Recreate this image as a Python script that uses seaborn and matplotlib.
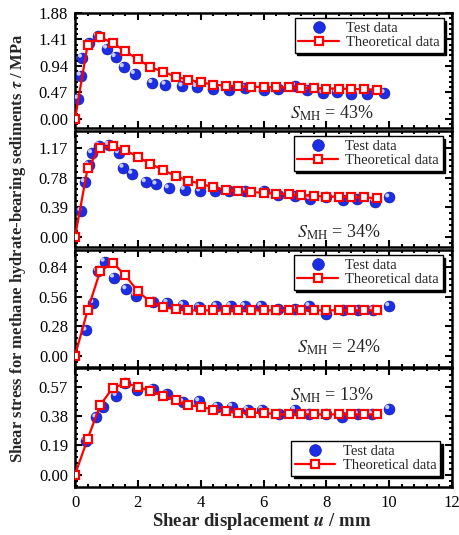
import numpy as np
import pandas as pd
import seaborn as sns
import matplotlib
matplotlib.use("Agg")
import matplotlib.pyplot as plt
from matplotlib.ticker import AutoMinorLocator, FixedLocator, MultipleLocator
from matplotlib.transforms import ScaledTranslation
from matplotlib.lines import Line2D

# ---- data -------------------------------------------------------------
saturations = ["43%", "34%", "24%", "13%"]

theory_u = [0.0, 0.4, 0.8, 1.2, 1.6, 2.0, 2.4, 2.8, 3.2, 3.6, 4.0, 4.4, 4.8,
            5.2, 5.6, 6.0, 6.4, 6.8, 7.2, 7.6, 8.0, 8.4, 8.8, 9.2, 9.6]

theory_43 = [0.00, 1.31, 1.45, 1.35, 1.20, 1.06, 0.92, 0.84, 0.75, 0.70, 0.65, 0.61, 0.59,
             0.58, 0.57, 0.57, 0.56, 0.56, 0.55, 0.55, 0.54, 0.54, 0.53, 0.53, 0.52]
theory_34 = [0.00, 0.90, 1.17, 1.19, 1.14, 1.05, 0.96, 0.88, 0.80, 0.74, 0.70, 0.65, 0.62,
             0.60, 0.59, 0.58, 0.57, 0.56, 0.55, 0.54, 0.53, 0.53, 0.52, 0.52, 0.51]
theory_24 = [0.00, 0.43, 0.80, 0.88, 0.76, 0.61, 0.51, 0.46, 0.44, 0.43, 0.43, 0.43, 0.43,
             0.43, 0.43, 0.43, 0.43, 0.43, 0.43, 0.43, 0.43, 0.43, 0.43, 0.43, 0.43]
theory_13 = [0.00, 0.23, 0.45, 0.56, 0.59, 0.57, 0.54, 0.51, 0.48, 0.45, 0.44, 0.42, 0.41,
             0.40, 0.40, 0.40, 0.39, 0.39, 0.39, 0.39, 0.39, 0.39, 0.39, 0.39, 0.39]

test_u_43 = [0.10, 0.18, 0.22, 0.46, 0.73, 1.02, 1.29, 1.55, 1.90, 2.46, 2.88, 3.42, 3.87,
             4.40, 4.90, 5.40, 6.00, 6.46, 7.00, 7.40, 7.90, 8.33, 8.80, 9.30, 9.85]
test_43 = [0.36, 0.77, 1.09, 1.34, 1.47, 1.25, 1.10, 0.92, 0.80, 0.64, 0.61, 0.58, 0.57,
           0.53, 0.51, 0.55, 0.52, 0.53, 0.59, 0.52, 0.46, 0.47, 0.44, 0.44, 0.46]

test_u_34 = [0.20, 0.31, 0.43, 0.54, 0.76, 1.07, 1.39, 1.54, 1.82, 2.25, 2.59, 2.98, 3.49,
             3.98, 4.46, 4.90, 5.40, 6.00, 6.47, 7.00, 7.48, 8.00, 8.54, 8.97, 9.55, 10.0]
test_34 = [0.34, 0.72, 0.94, 1.10, 1.20, 1.21, 1.10, 0.91, 0.83, 0.72, 0.69, 0.64, 0.62,
           0.60, 0.60, 0.60, 0.60, 0.60, 0.55, 0.54, 0.50, 0.53, 0.49, 0.50, 0.46, 0.52]

test_u_24 = [0.36, 0.58, 0.73, 0.94, 1.24, 1.63, 1.93, 2.48, 2.94, 3.44, 3.96, 4.50, 4.95,
             5.40, 5.93, 6.46, 7.00, 7.46, 8.00, 8.54, 9.00, 9.50, 10.0]
test_24 = [0.24, 0.50, 0.80, 0.89, 0.74, 0.63, 0.57, 0.51, 0.50, 0.48, 0.46, 0.47, 0.47,
           0.47, 0.47, 0.44, 0.44, 0.47, 0.40, 0.43, 0.43, 0.43, 0.47]

test_u_13 = [0.36, 0.68, 0.89, 1.32, 1.60, 1.97, 2.48, 2.94, 3.44, 3.95, 4.53, 5.00, 5.50,
             5.96, 6.50, 7.00, 7.46, 8.00, 8.50, 9.00, 9.45, 10.0]
test_13 = [0.22, 0.37, 0.44, 0.51, 0.59, 0.55, 0.555, 0.52, 0.47, 0.475, 0.44, 0.44, 0.42,
           0.42, 0.39, 0.42, 0.39, 0.39, 0.37, 0.39, 0.39, 0.425]

y_ticks = [
    [0.00, 0.47, 0.94, 1.41, 1.88],
    [0.00, 0.39, 0.78, 1.17],
    [0.00, 0.28, 0.56, 0.84],
    [0.00, 0.19, 0.38, 0.57],
]
x_ticks = [0, 2, 4, 6, 8, 10, 12]

# ---- style ------------------------------------------------------------
sns.set_theme(style="ticks")
plt.rcParams["font.family"] = ["Liberation Serif", "DejaVu Serif"]
plt.rcParams["mathtext.fontset"] = "stix"
plt.rcParams["axes.linewidth"] = 1.8

panels = [
    dict(tu=theory_u, ty=theory_43, xu=test_u_43, xy=test_43, ylim=(-0.16, 1.88),
         label_pos=(0.68, 0.13), legend="upper right", anchor=(0.978, 0.955)),
    dict(tu=theory_u, ty=theory_34, xu=test_u_34, xy=test_34, ylim=(-0.13, 1.39),
         label_pos=(0.70, 0.13), legend="upper right", anchor=(0.975, 0.955)),
    dict(tu=theory_u, ty=theory_24, xu=test_u_24, xy=test_24, ylim=(-0.105, 1.0),
         label_pos=(0.70, 0.17), legend="upper right", anchor=(0.975, 0.955)),
    dict(tu=theory_u, ty=theory_13, xu=test_u_13, xy=test_13, ylim=(-0.08, 0.69),
         label_pos=(0.68, 0.77), legend="lower right", anchor=(0.968, 0.095)),
]

fig = plt.figure(figsize=(4.59, 5.35), dpi=100)
W, H = 459, 535
boxes = [(13, 128), (131, 247), (250, 367), (368, 487)]
left_px, right_px = 75, 452

blue = "#1c2de6"
shine = "#c3cbff"
red = "#ff0000"

for i, (p, (top, bot)) in enumerate(zip(panels, boxes)):
    ax = fig.add_axes([left_px / W, 1 - bot / H, (right_px - left_px) / W, (bot - top) / H])

    # test data: shaded blue spheres
    sns.scatterplot(x=p["xu"], y=p["xy"], ax=ax, color=blue, s=62, edgecolor="#0a128a",
                    linewidth=0.4, zorder=3, legend=False)
    hl = ScaledTranslation(-1.4 / 72, 1.4 / 72, fig.dpi_scale_trans)
    sns.scatterplot(x=p["xu"], y=p["xy"], ax=ax, color=shine, s=9, edgecolor="none",
                    zorder=3.5, legend=False, transform=ax.transData + hl)

    # theoretical data: red line with open squares
    sns.lineplot(x=p["tu"], y=p["ty"], ax=ax, color=red, lw=1.6, marker="s",
                 markersize=5.5, markerfacecolor="white", markeredgecolor=red,
                 markeredgewidth=1.6, sort=False, estimator=None, zorder=4)

    ax.set_xlim(0, 12)
    ax.set_ylim(*p["ylim"])
    ax.xaxis.set_major_locator(FixedLocator(x_ticks))
    ax.xaxis.set_minor_locator(AutoMinorLocator(5))
    ax.yaxis.set_major_locator(FixedLocator(y_ticks[i]))
    step = y_ticks[i][1]
    ax.yaxis.set_minor_locator(MultipleLocator(step / 5))
    ax.set_yticklabels([f"{v:.2f}" for v in y_ticks[i]])
    ax.tick_params(which="both", direction="in", top=True, right=True, width=1.5,
                   colors="black")
    ax.tick_params(which="major", length=5, labelsize=12, pad=5)
    ax.tick_params(which="minor", length=2.5)
    if i < 3:
        ax.tick_params(axis="x", labelbottom=False)
    else:
        ax.tick_params(axis="x", pad=6)
    for s in ax.spines.values():
        s.set_color("black")
        s.set_linewidth(1.8)
    ax.set_xlabel("")
    ax.set_ylabel("")

    ax.text(p["label_pos"][0], p["label_pos"][1],
            r"$S_{\mathrm{MH}}$ = " + saturations[i], transform=ax.transAxes,
            ha="center", va="center", fontsize=13)

    handles = [
        Line2D([], [], linestyle="none", marker="o", markersize=8.5, color=blue,
               markeredgecolor="#0a128a", markeredgewidth=0.4),
        Line2D([], [], color=red, lw=1.6, marker="s", markersize=5.5,
               markerfacecolor="white", markeredgecolor=red, markeredgewidth=1.6),
    ]
    leg = ax.legend(handles, ["Test data", "Theoretical data"], loc=p["legend"],
                    bbox_to_anchor=p["anchor"], fontsize=10.5, frameon=True,
                    fancybox=False, shadow={"color": "black", "alpha": 1.0},
                    edgecolor="black", framealpha=1, borderpad=0.25,
                    handlelength=2.8, handletextpad=0.5, labelspacing=0.05,
                    borderaxespad=0.0)
    leg.get_frame().set_linewidth(1.0)

fig.text(18 / W, 1 - 248 / H,
         r"Shear stress for methane hydrate-bearing sediments $\boldsymbol{\tau}$ / MPa",
         rotation=90, ha="center", va="center", fontsize=12, fontweight="bold")
fig.text(262 / W, 1 - 521 / H, r"Shear displacement $\boldsymbol{u}$ / mm",
         ha="center", va="center", fontsize=13.5, fontweight="bold")

fig.savefig("out.png", dpi=100)
